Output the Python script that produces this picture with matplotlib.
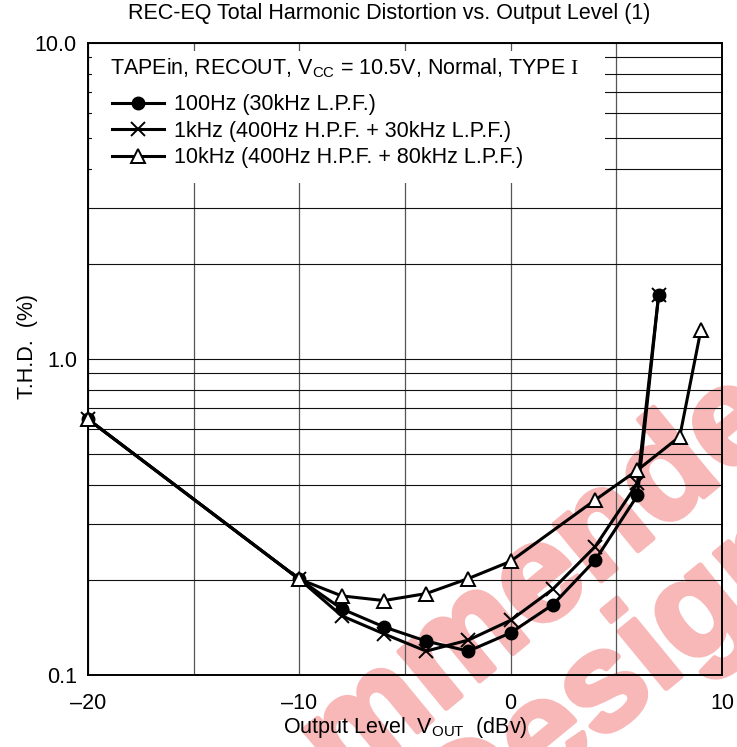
import matplotlib
matplotlib.use("Agg")
import matplotlib.pyplot as plt
from matplotlib.patches import Rectangle
import matplotlib.patheffects as pe

plt.rcParams['font.family'] = ['Liberation Sans', 'DejaVu Sans']
plt.rcParams['mathtext.fontset'] = 'custom'
plt.rcParams['mathtext.rm'] = 'Liberation Serif'
plt.rcParams['mathtext.sf'] = 'Liberation Sans'
plt.rcParams['mathtext.it'] = 'Liberation Sans'

# data
level_a = [-20, -10, -8, -6, -4, -2, 0, 2, 4, 6, 7]
thd_100 = [0.645, 0.201, 0.162, 0.142, 0.128, 0.119, 0.136, 0.167, 0.231, 0.370, 1.59]
thd_1k = [0.645, 0.201, 0.154, 0.135, 0.119, 0.129, 0.149, 0.187, 0.255, 0.404, 1.59]

level_b = [-20, -10, -8, -6, -4, -2, 0, 4, 6, 8, 9]
thd_10k = [0.645, 0.201, 0.178, 0.172, 0.181, 0.202, 0.229, 0.358, 0.445, 0.568, 1.236]

labels = ["100Hz (30kHz L.P.F.)",
          "1kHz (400Hz H.P.F. + 30kHz L.P.F.)",
          "10kHz (400Hz H.P.F. + 80kHz L.P.F.)"]
cond = "TAPEin, RECOUT, V$_{\\mathsf{CC}}$ = 10.5V, Normal, TYPE $\\mathrm{I}$"

x_ticks = [-20, -10, 0, 10]
x_tick_labels = ["\u201320", "\u201310", "0", "10"]
x_minor = [-15, -5, 5]
y_ticks = [0.1, 1.0, 10.0]
y_tick_labels = ["0.1", "1.0", "10.0"]
y_minor = [m * d for d in (0.1, 1.0) for m in range(2, 10)]

FS = 15.5

fig = plt.figure(figsize=(7.37, 7.47), dpi=100)
fig.patch.set_facecolor('white')
ax = fig.add_axes([88 / 737, 1 - 675 / 747, 634 / 737, 632 / 747])
ax.patch.set_alpha(0)

# watermark behind the axes content
wm = dict(fontsize=100, fontweight='bold', color='#f8b8b8', rotation=39.4,
          rotation_mode='anchor', ha='center', va='baseline', zorder=-5,
          path_effects=[pe.withStroke(linewidth=4, foreground='#f8b8b8')])
fig.text(361 / 737, 1 - 778 / 747, "Not Recommended", **wm)
fig.text(429 / 737, 1 - 883 / 747, "for New Design", **wm)

ax.set_yscale('log')
ax.set_xlim(-20, 10)
ax.set_ylim(0.1, 10)
ax.set_xticks(x_ticks)
ax.set_xticklabels(x_tick_labels)
ax.set_xticks(x_minor, minor=True)
ax.set_yticks(y_ticks)
ax.set_yticklabels(y_tick_labels)
ax.set_yticks(y_minor, minor=True)
ax.set_yticklabels([], minor=True)
ax.tick_params(which='both', length=0, labelsize=FS)
ax.tick_params(axis='x', pad=13)
ax.tick_params(axis='y', pad=8)
ax.xaxis.grid(True, which='both', color='#555555', linewidth=0.9)
ax.yaxis.grid(True, which='both', color='#111111', linewidth=0.8)
ax.set_axisbelow(True)
for s in ax.spines.values():
    s.set_linewidth(1.4)

# white box hiding the grid behind the legend
ax.add_patch(Rectangle((0.0063, 0.7785), 0.809, 0.209, transform=ax.transAxes,
                       facecolor='white', edgecolor='none', zorder=1))

ax.plot(level_a, thd_1k, color='black', lw=2.2, marker='x', ms=10, mew=1.4,
        label=labels[1], zorder=3, clip_on=False)
ax.plot(level_a, thd_100, color='black', lw=2.2, marker='o', ms=9,
        label=labels[0], zorder=4, clip_on=False)
ax.plot(level_b, thd_10k, color='black', lw=2.2, marker='^', ms=10,
        mfc='white', mec='black', mew=1.4, label=labels[2], zorder=5, clip_on=False)

h, l = ax.get_legend_handles_labels()
order = [1, 0, 2]
leg = ax.legend([h[i] for i in order], [l[i] for i in order],
                fontsize=FS, frameon=False, loc='upper left',
                bbox_to_anchor=(0.0379, 0.919), borderaxespad=0, borderpad=0,
                handlelength=2.42, handletextpad=0.47, labelspacing=0.26)
leg.set_zorder(6)
ax.text(0.0347, 0.951, cond, transform=ax.transAxes, fontsize=FS,
        ha='left', va='baseline', zorder=6)

fig.text(389 / 737, 1 - 14 / 747, "REC-EQ Total Harmonic Distortion vs. Output Level (1)",
         ha='center', va='center', fontsize=FS)
ax.set_xlabel("Output Level  V$_{\\mathsf{OUT}}$  (dBv)", fontsize=FS, labelpad=1)
ax.set_ylabel("T.H.D.  (%)", fontsize=FS)
ax.yaxis.set_label_coords(-0.079, 0.52)

fig.savefig("out.png", dpi=100)
